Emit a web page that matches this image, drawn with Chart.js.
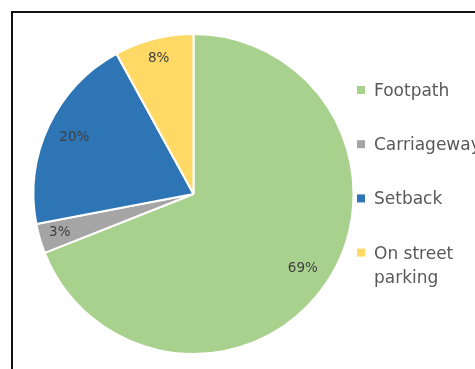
<!DOCTYPE html>
<html>
<head>
<meta charset="utf-8">
<script src="https://cdn.jsdelivr.net/npm/chart.js@4/dist/chart.umd.min.js"></script>
<style>
  html, body { margin: 0; padding: 0; background: #fff; }
  canvas { display: block; }
</style>
</head>
<body>
<canvas id="pieChart" width="475" height="369"></canvas>
<script>
// data
const categories = ['Footpath', 'Carriageway', 'Setback', 'On street parking'];
const shares = [69, 3, 20, 8];
const shareLabels = ['69%', '3%', '20%', '8%'];
const sliceColors = ['#A9D18E', '#A5A5A5', '#2E75B6', '#FFD966'];

// where each percent label sits, as a fraction of the radius
const labelRadius = [0.826, 0.87, 0.823, 0.877];

// black frame on top / left
const framePlugin = {
    id: 'frame',
    beforeDraw(chart) {
        const ctx = chart.ctx;
        ctx.save();
        ctx.fillStyle = '#fff';
        ctx.fillRect(0, 0, chart.width, chart.height);
        ctx.fillStyle = '#111';
        ctx.fillRect(11, 11, chart.width, 2);
        ctx.fillRect(11, 11, 2, chart.height);
        ctx.restore();
    }
};

// percent labels inside slices
const sliceLabelPlugin = {
    id: 'sliceLabels',
    afterDatasetsDraw(chart) {
        const ctx = chart.ctx;
        const arcs = chart.getDatasetMeta(0).data;
        ctx.save();
        ctx.font = '13.5px "DejaVu Sans"';
        ctx.fillStyle = '#404040';
        ctx.textAlign = 'center';
        ctx.textBaseline = 'middle';
        arcs.forEach((arc, i) => {
            const p = arc.getProps(['x', 'y', 'startAngle', 'endAngle', 'outerRadius'], true);
            const mid = (p.startAngle + p.endAngle) / 2;
            const r = p.outerRadius * labelRadius[i];
            ctx.fillText(shareLabels[i], p.x + Math.cos(mid) * r, p.y + Math.sin(mid) * r);
        });
        ctx.restore();
    }
};

// legend on the right, wraps long names
const sideLegendPlugin = {
    id: 'sideLegend',
    afterDraw(chart) {
        const ctx = chart.ctx;
        const boxX = 357, textX = 374, maxW = 100;
        const startY = 90, step = 54.2, lineH = 24.4;
        ctx.save();
        ctx.font = '17px "DejaVu Sans"';
        ctx.textBaseline = 'alphabetic';
        categories.forEach((name, i) => {
            const cy = startY + i * step;
            ctx.fillStyle = sliceColors[i];
            ctx.fillRect(boxX, cy - 4, 8, 8);

            // simple word wrap
            const words = name.split(' ');
            const lines = [];
            let line = '';
            words.forEach(w => {
                const test = line ? line + ' ' + w : w;
                if (line && ctx.measureText(test).width > maxW) {
                    lines.push(line);
                    line = w;
                } else {
                    line = test;
                }
            });
            lines.push(line);

            ctx.fillStyle = '#595959';
            lines.forEach((l, j) => {
                ctx.fillText(l, textX, cy + 6 + j * lineH);
            });
        });
        ctx.restore();
    }
};

new Chart(document.getElementById('pieChart'), {
    type: 'pie',
    data: {
        labels: categories,
        datasets: [{
            data: shares,
            backgroundColor: sliceColors,
            borderColor: '#ffffff',
            borderWidth: 2
        }]
    },
    options: {
        responsive: false,
        animation: false,
        devicePixelRatio: 1,
        layout: {
            padding: { left: 32.5, right: 120.5, top: 33, bottom: 14 }
        },
        plugins: {
            legend: { display: false },
            tooltip: { enabled: false }
        }
    },
    plugins: [framePlugin, sliceLabelPlugin, sideLegendPlugin]
});
</script>
</body>
</html>
